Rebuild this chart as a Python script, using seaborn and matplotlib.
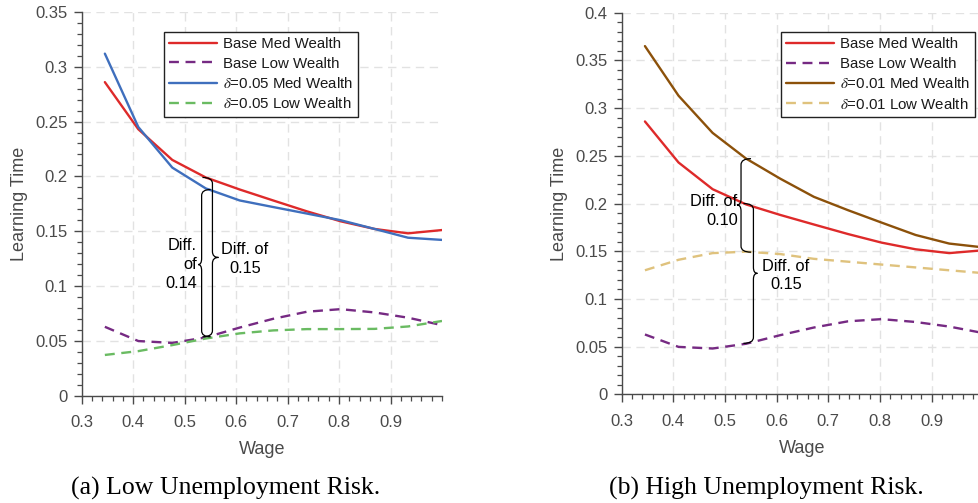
import numpy as np
import pandas as pd
import matplotlib
matplotlib.use("Agg")
import matplotlib.pyplot as plt
import seaborn as sns
from matplotlib.path import Path
from matplotlib.patches import PathPatch
from matplotlib.ticker import MultipleLocator, FuncFormatter, FixedLocator

# ---- data -------------------------------------------------------------
wage = [0.345, 0.41, 0.476, 0.541, 0.607, 0.672, 0.738, 0.803, 0.869, 0.934, 1.0]

base_med = [0.286, 0.243, 0.215, 0.199, 0.188, 0.178, 0.168, 0.159, 0.152, 0.148, 0.151]
base_low = [0.0627, 0.0497, 0.048, 0.053, 0.062, 0.070, 0.0765, 0.0788, 0.0758, 0.071, 0.0642]

low_risk_med = [0.312, 0.245, 0.208, 0.189, 0.178, 0.172, 0.166, 0.160, 0.152, 0.144, 0.142]
low_risk_low = [0.037, 0.0405, 0.046, 0.052, 0.0567, 0.0594, 0.0606, 0.0606, 0.0608, 0.063, 0.068]

high_risk_med = [0.365, 0.313, 0.274, 0.247, 0.226, 0.207, 0.193, 0.180, 0.167, 0.158, 0.154]
high_risk_low = [0.130, 0.141, 0.148, 0.1495, 0.147, 0.142, 0.139, 0.136, 0.133, 0.130, 0.127]

labels_a = ["Base Med Wealth", "Base Low Wealth",
            r"$\delta$=0.05 Med Wealth", r"$\delta$=0.05 Low Wealth"]
labels_b = ["Base Med Wealth", "Base Low Wealth",
            r"$\delta$=0.01 Med Wealth", r"$\delta$=0.01 Low Wealth"]

captions = ["(a) Low Unemployment Risk.", "(b) High Unemployment Risk."]

# ---- style ------------------------------------------------------------
sns.set_style("white")
plt.rcParams["font.family"] = ["Liberation Sans", "DejaVu Sans"]
plt.rcParams["mathtext.fontset"] = "stix"

AX_COLOR = "#4a4a4a"
RED = "#de2a2a"
PURPLE = "#762a83"
BLUE = "#3f6fbd"
GREEN = "#6abb62"
BROWN = "#8c510a"
TAN = "#dfc27d"
DASH = (0, (4.2, 2.8))
LW = 1.7

fig = plt.figure(figsize=(9.79, 5.03), dpi=100)
W, H = 979, 503


def px_axes(x0, x1, y_top, y_bot):
    return fig.add_axes([x0 / W, (H - y_bot) / H, (x1 - x0) / W, (y_bot - y_top) / H])


ax_a = px_axes(81.7, 442.0, 12.0, 395.5)
ax_b = px_axes(621.7, 983.3, 12.7, 394.3)


def draw_series(ax, series):
    handles = []
    for values, color, style in series:
        df = pd.DataFrame({"Wage": wage, "Learning Time": values})
        sns.lineplot(data=df, x="Wage", y="Learning Time", ax=ax, color=color,
                     linewidth=LW, linestyle=style, legend=False)
        handles.append(ax.get_lines()[-1])
    return handles


def style_axes(ax, ymax):
    ax.set_xlim(0.3, 1.0)
    ax.set_ylim(0, ymax)
    for side in ("top", "right"):
        ax.spines[side].set_visible(False)
    for side in ("left", "bottom"):
        ax.spines[side].set_color(AX_COLOR)
        ax.spines[side].set_linewidth(1.0)
    ax.xaxis.set_major_locator(FixedLocator([0.3, 0.4, 0.5, 0.6, 0.7, 0.8, 0.9]))
    ax.xaxis.set_minor_locator(MultipleLocator(0.02))
    ax.yaxis.set_major_locator(MultipleLocator(0.05))
    ax.yaxis.set_minor_locator(MultipleLocator(0.01))
    ax.yaxis.set_major_formatter(FuncFormatter(lambda v, p: f"{v:g}"))
    ax.xaxis.set_major_formatter(FuncFormatter(lambda v, p: f"{v:g}"))
    ax.tick_params(which="both", left=True, bottom=True, top=False, right=False)
    ax.tick_params(which="major", direction="out", length=6, width=1.0,
                   color=AX_COLOR, labelcolor=AX_COLOR, labelsize=12)
    ax.tick_params(which="minor", direction="out", length=3.6, width=0.9,
                   color=AX_COLOR)
    ax.tick_params(axis="x", which="major", pad=8)
    ax.tick_params(axis="y", which="major", pad=4)
    ax.grid(True, which="major", color="#e2e2e2", linestyle=(0, (6, 4)), linewidth=1.0)
    ax.set_axisbelow(True)
    ax.set_xlabel("Wage", fontsize=13, color=AX_COLOR, labelpad=8)
    ax.set_ylabel("Learning Time", fontsize=13, color=AX_COLOR, labelpad=5)


def brace(ax, x0, y_top, y_bot, y_mid, end_px, tip_px, curl_px, opens_left=True):
    """Curly brace along a vertical line at x0 (data), sizes in pixels."""
    (px0, py0) = ax.transData.transform((0, 0))
    (px1, py1) = ax.transData.transform((0.1, 0.1))
    sx = 0.1 / (px1 - px0)
    sy = 0.1 / (py1 - py0)
    s = 1 if opens_left else -1
    xe = x0 + s * end_px * sx
    xt = x0 - s * tip_px * sx
    r = curl_px * sy
    verts = [
        (xe, y_top), (x0, y_top), (x0, y_top - r),
        (x0, y_mid + r),
        (x0, y_mid), (xt, y_mid),
        (x0, y_mid), (x0, y_mid - r),
        (x0, y_bot + r),
        (x0, y_bot), (xe, y_bot),
    ]
    codes = [Path.MOVETO, Path.CURVE3, Path.CURVE3,
             Path.LINETO,
             Path.CURVE3, Path.CURVE3,
             Path.CURVE3, Path.CURVE3,
             Path.LINETO,
             Path.CURVE3, Path.CURVE3]
    ax.add_patch(PathPatch(Path(verts, codes), facecolor="none",
                           edgecolor="black", linewidth=0.9, zorder=5))


def legend(ax, handles, labels, anchor):
    leg = ax.legend(handles, labels, loc="upper right", bbox_to_anchor=anchor,
                    borderaxespad=0, fontsize=10.8, handlelength=3.2,
                    handletextpad=0.35, labelspacing=0.36, borderpad=0.35,
                    fancybox=False, framealpha=1, edgecolor="#222222")
    leg.get_frame().set_linewidth(1.0)
    for t in leg.get_texts():
        t.set_color("#1a1a1a")


# ---- panel (a) --------------------------------------------------------
style_axes(ax_a, 0.35)
h_a = draw_series(ax_a, [(base_med, RED, "-"), (base_low, PURPLE, DASH),
                         (low_risk_med, BLUE, "-"), (low_risk_low, GREEN, DASH)])
legend(ax_a, h_a, labels_a, (0.767, 0.948))

brace(ax_a, 0.533, 0.188, 0.0536, 0.1195, 9, 3.5, 6, opens_left=True)
brace(ax_a, 0.554, 0.199, 0.0536, 0.126, 10, 6, 6, opens_left=False)
ax_a.text(0.524, 0.1195, "Diff.\nof\n0.14", ha="right", va="center",
          fontsize=11.8, linespacing=1.3, color="black")
ax_a.text(0.617, 0.1248, "Diff. of\n0.15", ha="center", va="center",
          fontsize=11.8, linespacing=1.3, color="black")

# ---- panel (b) --------------------------------------------------------
style_axes(ax_b, 0.4)
h_b = draw_series(ax_b, [(base_med, RED, "-"), (base_low, PURPLE, DASH),
                         (high_risk_med, BROWN, "-"), (high_risk_low, TAN, DASH)])
legend(ax_b, h_b, labels_b, (0.977, 0.949))

brace(ax_b, 0.531, 0.247, 0.149, 0.1985, 10, 4, 6, opens_left=True)
brace(ax_b, 0.555, 0.200, 0.0534, 0.1268, 10, 4, 6, opens_left=False)
ax_b.text(0.5246, 0.1923, "Diff. of\n0.10", ha="right", va="center",
          fontsize=11.8, linespacing=1.3, color="black")
ax_b.text(0.618, 0.1245, "Diff. of\n0.15", ha="center", va="center",
          fontsize=11.8, linespacing=1.3, color="black")

# ---- captions ---------------------------------------------------------
fig.text(225.5 / W, (H - 495) / H, captions[0], ha="center", va="baseline",
         fontsize=18.5, family=["Liberation Serif", "DejaVu Serif"], color="black")
fig.text(766 / W, (H - 495) / H, captions[1], ha="center", va="baseline",
         fontsize=18.5, family=["Liberation Serif", "DejaVu Serif"], color="black")

fig.savefig("out.png", dpi=100, facecolor="white")
